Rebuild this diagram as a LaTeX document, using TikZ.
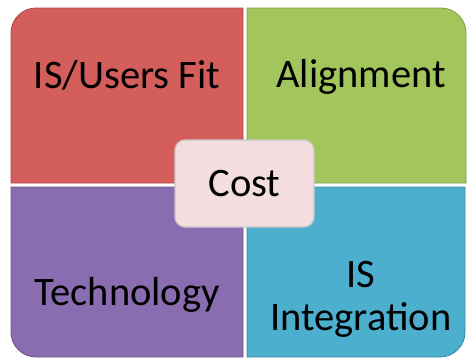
\documentclass[tikz,border=0pt]{standalone}
\usepackage{fontspec}
\setmainfont{Carlito}
\usepackage{tikz}

\definecolor{fitred}{RGB}{212,94,91}
\definecolor{aligngreen}{RGB}{162,198,92}
\definecolor{techpurple}{RGB}{138,108,176}
\definecolor{integblue}{RGB}{76,175,205}
\definecolor{costpink}{RGB}{243,221,222}

\begin{document}
\begin{tikzpicture}[
			x=1pt, y=-1pt,
			quad/.style={line width=0.9pt},
			quadtext/.style={font=\fontsize{40.5}{44}\selectfont, anchor=base, inner sep=0pt},
			costnode/.style={draw=black!22, fill=costpink, line width=1.2pt, rounded corners=10pt,
				minimum width=139pt, minimum height=87pt, inner sep=0pt, font=\fontsize{40.5}{44}\selectfont},
		]

			\useasboundingbox (0,0) rectangle (468,360);

			%Quadrants
			\fill[fitred, draw=fitred!80!black, quad]
				(243,8) -- (36,8) arc[start angle=90, end angle=180, radius=25pt] -- (11,183) -- (243,183) -- cycle;
			\fill[aligngreen, draw=aligngreen!80!black, quad]
				(247,8) -- (441,8) arc[start angle=90, end angle=0, radius=25pt] -- (466,183) -- (247,183) -- cycle;
			\fill[techpurple, draw=techpurple!80!black, quad]
				(243,187) -- (11,187) -- (11,332) arc[start angle=180, end angle=270, radius=25pt] -- (243,357) -- cycle;
			\fill[integblue, draw=integblue!80!black, quad]
				(247,187) -- (465,187) -- (465,332) arc[start angle=0, end angle=-90, radius=25pt] -- (247,357) -- cycle;

			%Nodes
			\node[quadtext]	(fit)		at (127,88)		{IS/Users Fit};
			\node[quadtext]	(align)		at (361,87)		{Alignment};
			\node[quadtext]	(tech)		at (127,305)	{Technology};
			\node[quadtext]	(is)		at (361,287)	{IS};
			\node[quadtext]	(integ)		at (361,330)	{Integration};
			\node[costnode]	(cost)		at (244.5,183.5)	{Cost};

		\end{tikzpicture}
\end{document}
